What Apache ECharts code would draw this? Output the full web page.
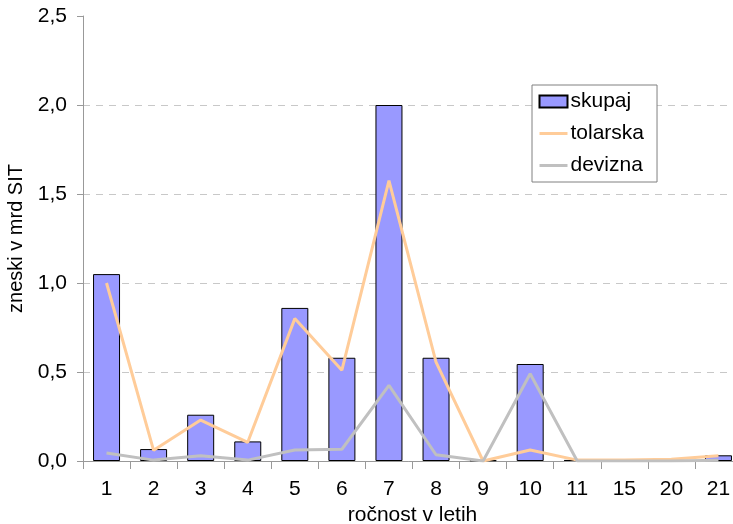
<!DOCTYPE html>
<html><head><meta charset="utf-8">
<script src="https://cdn.jsdelivr.net/npm/echarts@6/dist/echarts.min.js"></script>
<style>html,body{margin:0;padding:0;background:#fff}#c{width:733px;height:524px}</style>
</head><body><div id="c"></div>
<script>
const categories = ['1','2','3','4','5','6','7','8','9','10','11','15','20','21'];
const skupaj =   [1.05, 0.067, 0.26, 0.11, 0.86, 0.58, 2.0, 0.58, 0.004, 0.545, 0.006, 0.001, 0.001, 0.032];
const tolarska = [1.0, 0.06, 0.23, 0.105, 0.80, 0.51, 1.575, 0.555, 0.0, 0.062, 0.005, 0.005, 0.01, 0.03];
const devizna =  [0.045, 0.005, 0.03, 0.005, 0.062, 0.066, 0.425, 0.035, 0.0, 0.49, 0.0, 0.0, 0.0, 0.004];
const yTicks = [0, 0.5, 1.0, 1.5, 2.0, 2.5];

const chart = echarts.init(document.getElementById('c'));
const font = 'Liberation Sans, Arial, sans-serif';
chart.setOption({
  animation: false,
  textStyle: {fontFamily: font},
  grid: {left: 83, right: -9, top: 16, bottom: 63, containLabel: false, outerBoundsMode: 'none'},
  legend: {
    orient: 'vertical', left: 532, top: 85,
    padding: [6, 13, 6, 6], itemGap: 11, itemWidth: 28, itemHeight: 12,
    borderColor: '#808080', borderWidth: 1, backgroundColor: '#fff',
    textStyle: {fontSize: 21, color: '#000', fontFamily: font, padding: [0,0,0,-2]},
    data: [
      {name: 'skupaj', icon: 'rect'},
      {name: 'tolarska', itemStyle: {opacity: 0}, lineStyle: {width: 3, color: '#FFCC99'}},
      {name: 'devizna', itemStyle: {opacity: 0}, lineStyle: {width: 3, color: '#C0C0C0'}}
    ]
  },
  xAxis: {
    type: 'category', data: categories,
    name: 'ročnost v letih', nameLocation: 'middle', nameGap: 39,
    nameTextStyle: {fontSize: 21, color: '#000', fontFamily: font},
    axisLine: {lineStyle: {color: '#999', width: 1}},
    axisTick: {show: true, length: 8, lineStyle: {color: '#999'}},
    axisLabel: {fontSize: 21, color: '#000', margin: 18, fontFamily: font}
  },
  yAxis: {
    type: 'value', min: 0, max: 2.5, interval: 0.5,
    name: 'zneski v mrd SIT', nameLocation: 'middle', nameGap: 44, nameRotate: 90,
    nameTextStyle: {fontSize: 20, color: '#000', fontFamily: font},
    axisLine: {show: true, lineStyle: {color: '#999'}},
    axisTick: {show: true, length: 6, lineStyle: {color: '#999'}},
    axisLabel: {fontSize: 21, color: '#000', margin: 16, fontFamily: font,
      formatter: v => v.toFixed(1).replace('.', ',')},
    splitLine: {show: true, showMaxLine: false, lineStyle: {color: '#c8c8c8', type: [7, 6], width: 1}}
  },
  series: [
    {name: 'skupaj', type: 'bar', data: skupaj, barWidth: 27,
      itemStyle: {color: '#9999FF', borderColor: '#000', borderWidth: 1}},
    {name: 'tolarska', type: 'line', data: tolarska, symbol: 'none',
      lineStyle: {color: '#FFCC99', width: 3}, itemStyle: {color: '#FFCC99'}},
    {name: 'devizna', type: 'line', data: devizna, symbol: 'none',
      lineStyle: {color: '#C0C0C0', width: 3}, itemStyle: {color: '#C0C0C0'}}
  ]
});
</script></body></html>
